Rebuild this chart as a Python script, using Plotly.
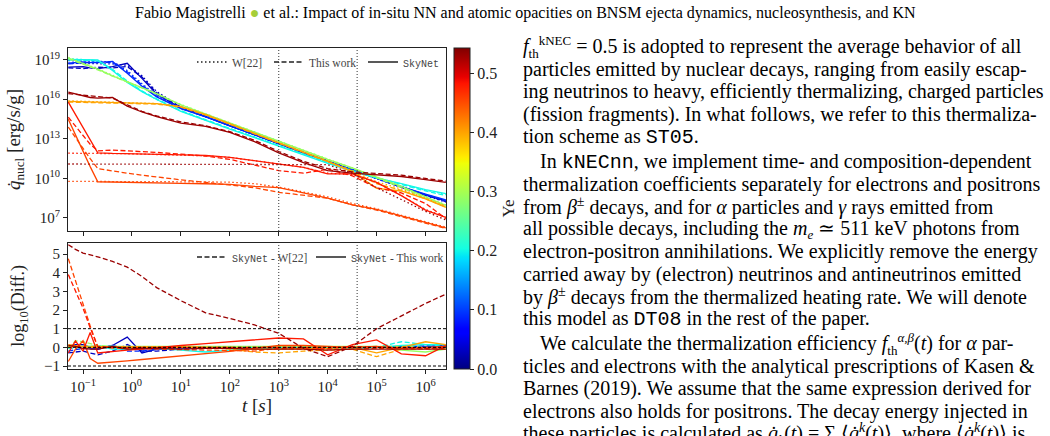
import math
import plotly.graph_objects as go

# ---------------------------------------------------------------- data
# time grid [s] shared by all curves
t_s = [0.05, 0.07, 0.1, 0.14, 0.2, 0.4, 0.8, 1.6, 3.2, 10, 32, 100, 320,
       1e3, 3.2e3, 1e4, 3.2e4, 1e5, 3.2e5, 1e6, 2.6e6]

# electron fraction of each trajectory
ye_traj = [0.03, 0.09, 0.20, 0.29, 0.40, 0.455, 0.48, 0.53]

# log10 heating rate [erg/s/g]  (sky = SkyNet, tw = This work, w22 = W[22])
lq_sky_003 = [18.45, 18.50, 18.50, 18.40, 18.35, 18.50, 18.75, 17.60, 16.40, 15.35, 14.70, 14.00, 13.30, 12.62, 11.95, 11.30, 10.65, 10.00, 9.35, 8.75, 8.30]
lq_tw_003 = [18.40, 18.35, 18.35, 18.40, 18.45, 18.40, 18.50, 17.70, 16.50, 15.40, 14.72, 14.02, 13.32, 12.64, 11.97, 11.32, 10.66, 9.98, 9.33, 8.72, 8.25]
lq_w22_003 = [18.75, 18.75, 18.70, 18.72, 18.75, 18.70, 18.60, 17.80, 16.60, 15.45, 14.75, 14.05, 13.35, 12.66, 11.98, 11.32, 10.65, 9.97, 9.30, 8.70, 8.20]

lq_sky_009 = [18.75, 18.80, 18.85, 18.80, 18.80, 18.90, 18.00, 17.00, 16.20, 15.30, 14.68, 14.00, 13.30, 12.60, 11.95, 11.30, 10.65, 10.00, 9.38, 8.82, 8.38]
lq_tw_009 = [18.70, 18.75, 18.80, 18.85, 18.85, 18.80, 18.10, 17.10, 16.25, 15.32, 14.70, 14.02, 13.32, 12.62, 11.97, 11.32, 10.66, 10.00, 9.36, 8.78, 8.32]
lq_w22_009 = [18.95, 18.92, 18.90, 18.90, 18.90, 18.85, 18.20, 17.20, 16.30, 15.35, 14.70, 14.03, 13.33, 12.63, 11.98, 11.32, 10.65, 9.98, 9.33, 8.75, 8.28]

lq_sky_020 = [19.05, 19.05, 19.05, 19.02, 19.00, 18.20, 17.30, 16.60, 16.00, 15.10, 14.40, 13.75, 13.10, 12.45, 11.80, 11.15, 10.55, 10.05, 9.60, 9.15, 8.85]
lq_tw_020 = [19.00, 19.00, 19.00, 18.98, 18.95, 18.30, 17.40, 16.65, 16.05, 15.15, 14.45, 13.80, 13.15, 12.50, 11.85, 11.20, 10.60, 10.05, 9.55, 9.05, 8.70]
lq_w22_020 = [19.10, 19.08, 19.05, 19.00, 18.90, 18.25, 17.35, 16.60, 16.00, 15.12, 14.42, 13.78, 13.12, 12.48, 11.83, 11.18, 10.58, 10.05, 9.55, 9.10, 8.80]

lq_sky_029 = [19.15, 18.95, 18.75, 18.52, 18.30, 17.80, 17.35, 16.90, 16.45, 15.60, 14.90, 14.20, 13.50, 12.80, 12.15, 11.45, 10.80, 10.10, 9.40, 8.60, 7.95]
lq_tw_029 = [19.10, 18.90, 18.70, 18.48, 18.25, 17.78, 17.32, 16.88, 16.42, 15.58, 14.88, 14.18, 13.48, 12.78, 12.12, 11.42, 10.76, 10.05, 9.32, 8.50, 7.85]
lq_w22_029 = [19.20, 19.00, 18.78, 18.55, 18.32, 17.85, 17.38, 16.92, 16.45, 15.62, 14.92, 14.22, 13.52, 12.82, 12.15, 11.48, 10.82, 10.12, 9.40, 8.60, 8.00]

lq_sky_040 = [15.85, 15.84, 15.82, 15.81, 15.80, 15.78, 15.75, 15.72, 15.68, 15.45, 14.85, 14.15, 13.40, 12.70, 12.00, 11.30, 10.50, 9.25, 9.05, 8.45, 7.80]
lq_tw_040 = [15.80, 15.79, 15.78, 15.78, 15.77, 15.75, 15.72, 15.70, 15.65, 15.42, 14.82, 14.12, 13.38, 12.68, 11.98, 11.28, 10.55, 9.60, 9.10, 8.45, 7.85]
lq_w22_040 = [15.90, 15.88, 15.86, 15.85, 15.83, 15.80, 15.77, 15.73, 15.69, 15.46, 14.86, 14.16, 13.42, 12.72, 12.02, 11.32, 10.60, 9.75, 9.20, 8.50, 7.90]

lq_sky_0455 = [14.50, 13.30, 12.10, 10.90, 9.75, 9.72, 9.70, 9.68, 9.66, 9.63, 9.60, 9.55, 9.40, 9.30, 8.90, 8.50, 8.00, 7.65, 7.15, 6.65, 6.25]
lq_tw_0455 = [13.90, 13.10, 12.30, 11.50, 10.75, 10.55, 10.40, 10.25, 10.10, 9.90, 9.70, 9.50, 9.30, 8.95, 8.75, 8.50, 8.00, 7.60, 7.10, 6.60, 6.20]
lq_w22_0455 = [9.78, 9.78, 9.78, 9.77, 9.77, 9.77, 9.76, 9.76, 9.75, 9.75, 9.74, 9.72, 9.60, 9.35, 9.00, 8.60, 8.10, 7.70, 7.20, 6.70, 6.30]

lq_sky_048 = [15.80, 14.85, 13.90, 12.90, 11.95, 11.90, 11.88, 11.85, 11.83, 11.80, 11.75, 11.60, 11.35, 11.10, 10.85, 10.35, 10.35, 9.70, 8.70, 7.60, 7.05]
lq_tw_048 = [14.65, 14.00, 13.30, 12.60, 12.10, 12.15, 12.10, 12.05, 11.98, 11.85, 11.70, 11.45, 11.05, 10.60, 10.40, 10.70, 10.20, 9.30, 8.90, 8.10, 6.95]
lq_w22_048 = [11.92, 11.92, 11.92, 11.91, 11.91, 11.90, 11.88, 11.85, 11.82, 11.78, 11.72, 11.60, 11.35, 11.10, 10.85, 10.40, 10.30, 9.70, 8.70, 7.65, 7.05]

lq_sky_053 = [16.55, 16.40, 16.25, 16.15, 16.10, 16.15, 15.50, 15.05, 14.70, 14.20, 13.95, 13.50, 12.80, 11.95, 11.20, 10.60, 10.40, 10.30, 10.15, 9.92, 9.70]
lq_tw_053 = [16.45, 16.40, 16.30, 16.25, 16.20, 16.10, 15.60, 15.10, 14.75, 14.30, 14.00, 13.55, 12.90, 12.05, 11.30, 10.75, 10.50, 10.40, 10.25, 10.00, 9.80]
lq_w22_053 = [11.10, 11.10, 11.10, 11.10, 11.10, 11.10, 11.10, 11.10, 11.10, 11.10, 11.10, 11.10, 11.08, 11.08, 11.07, 11.05, 10.40, 9.30, 8.40, 7.50, 6.85]

# log10 of the differences (bottom panel)
ld_w22_003 = [-0.30, -0.25, -0.20, -0.30, -0.40, -0.20, 0.15, -0.20, -0.20, -0.10, -0.05, -0.05, -0.05, -0.04, -0.03, -0.02, 0.00, 0.03, 0.05, 0.05, 0.10]
ld_tw_003 = [0.05, 0.15, 0.15, 0.00, -0.10, 0.10, 0.55, -0.30, -0.10, -0.05, -0.02, -0.02, -0.02, -0.02, -0.02, -0.02, -0.01, 0.02, 0.02, 0.03, 0.05]
ld_w22_009 = [-0.20, -0.12, -0.05, -0.10, -0.10, 0.05, -0.20, -0.20, -0.10, -0.05, -0.02, -0.03, -0.03, -0.03, -0.03, -0.02, 0.00, 0.02, 0.05, 0.07, 0.10]
ld_tw_009 = [0.05, 0.05, 0.05, -0.05, -0.05, 0.10, -0.10, -0.10, -0.05, -0.02, -0.02, -0.02, -0.02, -0.02, -0.02, -0.02, -0.01, 0.00, 0.02, 0.04, 0.06]
ld_w22_020 = [-0.05, -0.03, 0.00, 0.02, 0.10, -0.05, -0.05, 0.00, 0.00, -0.02, -0.02, -0.03, -0.02, -0.03, -0.03, -0.03, -0.03, 0.00, 0.30, 0.15, 0.05]
ld_tw_020 = [0.05, 0.05, 0.05, 0.04, 0.05, -0.10, -0.10, -0.05, -0.05, -0.15, -0.25, -0.15, -0.05, -0.05, -0.05, -0.05, -0.05, 0.00, 0.10, 0.15, 0.15]
ld_w22_029 = [-0.05, 0.35, 0.30, 0.20, 0.10, 0.05, 0.00, 0.00, 0.00, 0.00, 0.00, 0.00, 0.00, 0.00, 0.00, 0.00, 0.00, 0.05, 0.05, 0.00, -0.05]
ld_tw_029 = [0.05, 0.05, 0.05, 0.05, 0.05, 0.02, 0.02, 0.02, 0.02, 0.02, 0.02, 0.02, 0.02, 0.02, 0.03, 0.03, 0.04, 0.05, -0.15, -0.25, -0.10]
ld_w22_040 = [0.05, 0.05, 0.05, 0.05, 0.05, 0.03, 0.03, 0.02, 0.03, 0.03, 0.00, -0.10, -0.25, -0.30, -0.20, -0.15, -0.10, -0.50, -0.10, -0.10, -0.10]
ld_tw_040 = [0.15, 0.10, 0.05, 0.00, 0.00, 0.00, 0.00, 0.00, 0.00, 0.00, 0.00, 0.00, -0.10, -0.10, -0.05, -0.05, 0.00, -0.30, 0.00, 0.30, 0.15]
ld_w22_0455 = [4.75, 3.55, 2.35, 1.15, 0.00, -0.05, -0.06, -0.08, -0.09, -0.12, -0.14, -0.17, -0.20, -0.05, -0.10, -0.10, -0.10, -0.05, -0.05, -0.05, -0.05]
ld_tw_0455 = [-0.76, -0.10, 0.35, -0.60, -0.85, -0.80, -0.72, -0.65, -0.58, -0.48, -0.35, -0.22, -0.05, 0.10, 0.10, 0.05, 0.00, 0.05, -0.05, 0.00, 0.05]
ld_w22_048 = [3.90, 3.00, 2.10, 1.05, 0.05, 0.00, 0.00, 0.00, 0.01, 0.02, 0.03, 0.00, 0.00, 0.00, 0.00, -0.05, 0.05, 0.00, 0.00, -0.05, 0.00]
ld_tw_048 = [-0.30, 0.35, -0.20, 0.80, -0.30, -0.22, -0.15, -0.10, -0.02, 0.10, 0.20, 0.30, 0.42, 0.50, 0.45, -0.40, 0.15, 0.40, -0.35, -0.45, 0.10]
ld_w22_053 = [5.50, 5.25, 5.05, 4.95, 4.85, 4.60, 4.30, 3.80, 3.20, 2.50, 1.85, 1.55, 1.20, 0.75, -0.05, -0.50, 0.05, 1.00, 1.70, 2.35, 2.85]
ld_tw_053 = [0.10, 0.05, -0.05, -0.10, -0.10, 0.05, -0.10, -0.05, -0.05, -0.10, -0.05, -0.05, -0.10, -0.10, -0.10, -0.15, -0.10, -0.10, -0.10, -0.08, -0.10]

# reference lines and ticks
vline_t = [1e3, 4e4]
hline_diff = [-1, 0, 1]
xtick_t = [0.1, 1, 10, 100, 1e3, 1e4, 1e5, 1e6]
xtick_lbl = ["10<sup>−1</sup>", "10<sup>0</sup>", "10<sup>1</sup>", "10<sup>2</sup>",
             "10<sup>3</sup>", "10<sup>4</sup>", "10<sup>5</sup>", "10<sup>6</sup>"]
ytick_q = [1e7, 1e10, 1e13, 1e16, 1e19]
ytick_q_lbl = ["10<sup>7</sup>", "10<sup>10</sup>", "10<sup>13</sup>", "10<sup>16</sup>", "10<sup>19</sup>"]
ytick_d = [-1, 0, 1, 2, 3, 4, 5]
ytick_d_lbl = ["−1", "0", "1", "2", "3", "4", "5"]
cb_ticks = [0.0, 0.1, 0.2, 0.3, 0.4, 0.5]
YE_MAX = 0.543

top_sets = [
    (ye_traj[0], lq_w22_003, lq_tw_003, lq_sky_003),
    (ye_traj[1], lq_w22_009, lq_tw_009, lq_sky_009),
    (ye_traj[2], lq_w22_020, lq_tw_020, lq_sky_020),
    (ye_traj[3], lq_w22_029, lq_tw_029, lq_sky_029),
    (ye_traj[4], lq_w22_040, lq_tw_040, lq_sky_040),
    (ye_traj[5], lq_w22_0455, lq_tw_0455, lq_sky_0455),
    (ye_traj[6], lq_w22_048, lq_tw_048, lq_sky_048),
    (ye_traj[7], lq_w22_053, lq_tw_053, lq_sky_053),
]
bot_sets = [
    (ye_traj[0], ld_w22_003, ld_tw_003),
    (ye_traj[1], ld_w22_009, ld_tw_009),
    (ye_traj[2], ld_w22_020, ld_tw_020),
    (ye_traj[3], ld_w22_029, ld_tw_029),
    (ye_traj[4], ld_w22_040, ld_tw_040),
    (ye_traj[5], ld_w22_0455, ld_tw_0455),
    (ye_traj[6], ld_w22_048, ld_tw_048),
    (ye_traj[7], ld_w22_053, ld_tw_053),
]

# ---------------------------------------------------------------- style
SERIF = "Liberation Serif"
MONO = "Liberation Mono"
DOT = "1.5px,2.5px"
DASH = "5px,2.5px"
LW = 1.3

JET_R = [(0, 0), (0.35, 0), (0.66, 1), (0.89, 1), (1, 0.5)]
JET_G = [(0, 0), (0.125, 0), (0.375, 1), (0.64, 1), (0.91, 0), (1, 0)]
JET_B = [(0, 0.5), (0.11, 1), (0.34, 1), (0.65, 0), (1, 0)]


def _seg(x, pts):
    for (x0, y0), (x1, y1) in zip(pts[:-1], pts[1:]):
        if x0 <= x <= x1:
            return y0 + (y1 - y0) * (x - x0) / (x1 - x0)
    return pts[-1][1]


def jet(x):
    x = min(max(x, 0.0), 1.0)
    r, g, b = (_seg(x, c) for c in (JET_R, JET_G, JET_B))
    return "rgb(%d,%d,%d)" % (round(r * 255), round(g * 255), round(b * 255))


jet_scale = [[s, jet(s)] for s in
             [0, 0.11, 0.125, 0.34, 0.35, 0.375, 0.64, 0.65, 0.66, 0.89, 0.91, 1.0]]

# layout geometry (pixels)
W, H = 1050, 436
PL, PR, PT, PB = 68, 446, 48, 369


def px_x(px):
    return (px - PL) / (PR - PL)


def px_y(py):
    return (PB - py) / (PB - PT)


def mono(s, size=None):
    sz = ";font-size:%dpx" % size if size else ""
    return '<span style="font-family:%s%s">%s</span>' % (MONO, sz, s)


def small(s, size=13):
    return '<span style="font-size:%dpx">%s</span>' % (size, s)


fig = go.Figure()

# ---------------------------------------------------------------- top panel
for ye, w22, tw, sky in top_sets:
    col = jet(ye / YE_MAX)
    for vals, dash in ((w22, DOT), (tw, DASH), (sky, "solid")):
        fig.add_trace(go.Scatter(
            x=t_s, y=[10 ** v for v in vals], mode="lines",
            line=dict(color=col, width=LW, dash=dash),
            xaxis="x", yaxis="y", showlegend=False, hoverinfo="skip"))

# ---------------------------------------------------------------- bottom panel
for ye, dw22, dtw in bot_sets:
    col = jet(ye / YE_MAX)
    for vals, dash in ((dw22, DASH), (dtw, "solid")):
        fig.add_trace(go.Scatter(
            x=t_s, y=vals, mode="lines",
            line=dict(color=col, width=LW, dash=dash),
            xaxis="x2", yaxis="y2", showlegend=False, hoverinfo="skip"))

# legend keys (one legend box per entry so each can be placed like the original)
legend_items = [
    ("W[22]", DOT, "x", "y", "legend", 192, 62),
    ("This work", DASH, "x", "y", "legend2", 269, 62),
    (mono("SkyNet", 10), "solid", "x", "y", "legend3", 363, 62),
    (mono("SkyNet", 10) + " - W[22]", DASH, "x2", "y2", "legend4", 192, 257),
    (mono("SkyNet", 10) + " - This work", "solid", "x2", "y2", "legend5", 311, 257),
]
legend_layout = {}
for name, dash, xa, ya, lg, lx, ly in legend_items:
    fig.add_trace(go.Scatter(x=[None], y=[None], mode="lines", name=name,
                             line=dict(color="#222", width=LW, dash=dash),
                             xaxis=xa, yaxis=ya, legend=lg, showlegend=True))
    legend_layout[lg] = dict(x=px_x(lx), y=px_y(ly), xanchor="left", yanchor="middle",
                             bgcolor="rgba(0,0,0,0)", borderwidth=0,
                             font=dict(family=SERIF, size=11.5, color="#444"),
                             itemwidth=30, orientation="h")

# colorbar
fig.add_trace(go.Scatter(
    x=[None], y=[None], mode="markers", showlegend=False, hoverinfo="skip",
    marker=dict(color=[0], cmin=0, cmax=YE_MAX, colorscale=jet_scale, showscale=True,
                colorbar=dict(x=px_x(454), xanchor="left", xpad=0, y=0.5, yanchor="middle",
                              ypad=0, len=1, lenmode="fraction", thickness=16,
                              outlinewidth=1, outlinecolor="#222",
                              ticks="outside", ticklen=4, tickcolor="#222",
                              tickvals=cb_ticks, ticktext=["%.1f" % v for v in cb_ticks],
                              tickfont=dict(family=SERIF, size=16, color="#222"),
                              title=dict(text="Ye", side="right",
                                         font=dict(family=SERIF, size=17, color="#222")))),
    xaxis="x", yaxis="y"))

# reference lines
for tv in vline_t:
    for xa, ya in (("x", "y domain"), ("x2", "y2 domain")):
        fig.add_shape(type="line", xref=xa, yref=ya, x0=tv, x1=tv, y0=0, y1=1,
                      line=dict(color="#333", width=1, dash="1px,2px"), layer="above")
for hv in hline_diff:
    fig.add_shape(type="line", xref="x2 domain", yref="y2", x0=0, x1=1, y0=hv, y1=hv,
                  line=dict(color="black", width=1, dash="3px,2px"), layer="above")

xr = [math.log10(0.0493), math.log10(2.62e6)]
axis_common = dict(showline=True, mirror=True, linecolor="#222", linewidth=1,
                   ticks="outside", ticklen=4, tickcolor="#222", showgrid=False,
                   zeroline=False, tickfont=dict(family=SERIF, size=15, color="#222"))
top_lo = px_y(231)
bot_hi = px_y(243)

fig.update_layout(
    width=W, height=H, autosize=False,
    margin=dict(l=PL, r=W - PR, t=PT, b=H - PB, pad=0),
    paper_bgcolor="white", plot_bgcolor="white",
    xaxis=dict(type="log", range=xr, domain=[0, 1], anchor="y",
               tickvals=xtick_t, showticklabels=False, **axis_common),
    yaxis=dict(type="log", range=[6.01, 19.91], domain=[top_lo, 1], anchor="x",
               tickvals=ytick_q, ticktext=ytick_q_lbl,
               title=dict(text="<i>q̇</i><sub>nucl</sub> [erg/s/g]", standoff=8,
                          font=dict(family=SERIF, size=19, color="#222")),
               **axis_common),
    xaxis2=dict(type="log", range=xr, domain=[0, 1], anchor="y2",
                tickvals=xtick_t, ticktext=xtick_lbl,
                title=dict(text="<i>t</i> [<i>s</i>]", standoff=4,
                           font=dict(family=SERIF, size=19, color="#222")),
                **axis_common),
    yaxis2=dict(range=[-1.16, 5.59], domain=[0, bot_hi], anchor="x2",
                tickvals=ytick_d, ticktext=ytick_d_lbl,
                title=dict(text="log<sub>10</sub>(Diff.)", standoff=14,
                           font=dict(family=SERIF, size=18, color="#222")),
                **axis_common),
    showlegend=True,
    **legend_layout,
)

# ---------------------------------------------------------------- page text
header = ('Fabio Magistrelli <span style="color:#a6ce39">●</span> et al.: Impact of in-situ NN '
          'and atomic opacities on BNSM ejecta dynamics, nucleosynthesis, and KN')
fig.add_annotation(text=header, xref="paper", yref="paper", x=px_x(525), y=px_y(13),
                   xanchor="center", yanchor="middle", showarrow=False,
                   font=dict(family=SERIF, size=16, color="black"))

body_lines = [
    (0, "<i>f</i><sub>" + small("th") + "</sub><sup>" + small("kNEC") + "</sup> = 0.5 is adopted to represent the average behavior of all"),
    (0, "particles emitted by nuclear decays, ranging from easily escap-"),
    (0, "ing neutrinos to heavy, efficiently thermalizing, charged particles"),
    (0, "(fission fragments). In what follows, we refer to this thermaliza-"),
    (0, "tion scheme as " + mono("ST05") + "."),
    (1, "In " + mono("kNECnn") + ", we implement time- and composition-dependent"),
    (0, "thermalization coefficients separately for electrons and positrons"),
    (0, "from <i>β</i><sup>±</sup> decays, and for <i>α</i> particles and <i>γ</i> rays emitted from"),
    (0, "all possible decays, including the <i>m</i><sub><i>" + small("e") + "</i></sub> ≃ 511 keV photons from"),
    (0, "electron-positron annihilations. We explicitly remove the energy"),
    (0, "carried away by (electron) neutrinos and antineutrinos emitted"),
    (0, "by <i>β</i><sup>±</sup> decays from the thermalized heating rate. We will denote"),
    (0, "this model as " + mono("DT08") + " in the rest of the paper."),
    (1, "We calculate the thermalization efficiency <i>f</i><sub>" + small("th") + "</sub><sup><i>" + small("α,β") + "</i></sup>(<i>t</i>) for <i>α</i> par-"),
    (0, "ticles and electrons with the analytical prescriptions of Kasen &amp;"),
    (0, "Barnes (2019). We assume that the same expression derived for"),
    (0, "electrons also holds for positrons. The decay energy injected in"),
    (0, "these particles is calculated as <i>q̇</i><sub><i>k</i></sub>(<i>t</i>) = Σ ⟨<i>q̇</i><sup><i>k</i></sup>(<i>t</i>)⟩, where ⟨<i>q̇</i><sup><i>k</i></sup>(<i>t</i>)⟩ is"),
]
LINE0, LS, PARA = 47, 22.4, 3
y = LINE0
for i, (indent, txt) in enumerate(body_lines):
    if i > 0:
        y += LS + (PARA if indent else 0)
    fig.add_annotation(text=txt, xref="paper", yref="paper",
                       x=px_x(521 + 17 * indent), y=px_y(y), xanchor="left", yanchor="middle",
                       showarrow=False, font=dict(family=SERIF, size=20, color="black"))

fig.write_html("out.html")
